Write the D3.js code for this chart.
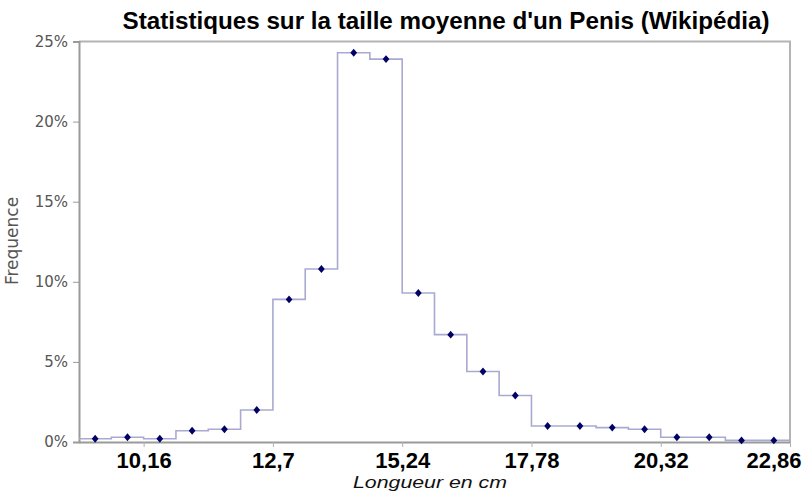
<!DOCTYPE html>
<html>
<head>
<meta charset="utf-8">
<script src="https://cdn.jsdelivr.net/npm/d3@7/dist/d3.min.js"></script>
<style>
  html, body { margin: 0; padding: 0; background: #fff; }
  svg { display: block; }
</style>
</head>
<body>
<svg id="chart" width="805" height="494"></svg>
<script>
// Data: bins of 0.635 cm (1/4 inch), from 8.89 cm to 22.86 cm
const binStart = 8.89;
const binWidth = 0.635;
const frequencies = [0.2, 0.3, 0.2, 0.7, 0.8, 2.0, 8.9, 10.8, 24.3, 23.9, 9.3, 6.7, 4.4, 2.9, 1.0, 1.0, 0.9, 0.8, 0.3, 0.3, 0.1, 0.1];
const xTickValues = [10.16, 12.7, 15.24, 17.78, 20.32, 22.86];
const xTickLabels = ["10,16", "12,7", "15,24", "17,78", "20,32", "22,86"];
const yTickValues = [0, 5, 10, 15, 20, 25];
const yTickLabels = ["0%", "5%", "10%", "15%", "20%", "25%"];
const title = "Statistiques sur la taille moyenne d'un Penis (Wikipédia)";
const xTitle = "Longueur en cm";
const yTitle = "Frequence";

const W = 805, H = 494;
const svg = d3.select("#chart");
const mLeft = 79, mRight = 790, mTop = 41.5, mBottom = 442;

const xEnd = binStart + binWidth * frequencies.length;
const x = d3.scaleLinear().domain([binStart, xEnd]).range([mLeft, mRight]);
const y = d3.scaleLinear().domain([0, 25]).range([mBottom, mTop]);

// Frame (top and right)
svg.append("path")
  .attr("d", `M${mLeft},${mTop}H${mRight}V${mBottom}`)
  .attr("fill", "none").attr("stroke", "#b4b4b4").attr("stroke-width", 2);

// Y axis
const yAxis = d3.axisLeft(y).tickValues(yTickValues)
  .tickFormat((d, i) => yTickLabels[i]).tickSize(6).tickPadding(5);
const gy = svg.append("g").attr("transform", `translate(${mLeft},0)`).call(yAxis);
gy.select(".domain").attr("stroke", "#9a9a9a").attr("stroke-width", 2);
gy.selectAll(".tick line").attr("stroke", "#9a9a9a").attr("stroke-width", 1);
gy.selectAll(".tick text")
  .attr("font-family", "DejaVu Sans, sans-serif")
  .attr("font-size", 15).attr("fill", "#555");

// X axis
const xAxis = d3.axisBottom(x).tickValues(xTickValues)
  .tickFormat((d, i) => xTickLabels[i]).tickSize(5).tickPadding(5).tickSizeOuter(0);
const gx = svg.append("g").attr("transform", `translate(0,${mBottom})`).call(xAxis);
gx.select(".domain").attr("stroke", "#9a9a9a").attr("stroke-width", 2);
gx.selectAll(".tick line").attr("stroke", "#b0b0b0").attr("stroke-width", 1);
gx.selectAll(".tick text")
  .attr("font-family", "Liberation Sans, Arial, sans-serif")
  .attr("font-weight", "bold")
  .attr("font-size", 22).attr("fill", "#000")
  .attr("dy", "0.72em")
  .each(function(d) {
    const bb = this.getBBox();
    const tx = x(d);
    if (tx + bb.width / 2 > W - 4) {
      d3.select(this).attr("text-anchor", "end").attr("x", (W - 4) - tx);
    }
  });

// Step line
const stepPts = frequencies.map((v, i) => [binStart + i * binWidth, v]);
stepPts.push([xEnd, frequencies[frequencies.length - 1]]);
const line = d3.line().x(d => x(d[0])).y(d => y(d[1])).curve(d3.curveStepAfter);
svg.append("path").datum(stepPts)
  .attr("d", line)
  .attr("fill", "none").attr("stroke", "#a9a9d2").attr("stroke-width", 1.6);

// Markers
const sym = d3.symbol().type(d3.symbolDiamond2).size(36);
svg.append("g").selectAll("path").data(frequencies).join("path")
  .attr("d", sym)
  .attr("transform", (d, i) => `translate(${x(binStart + (i + 0.5) * binWidth)},${y(d)}) scale(0.9,1.05)`)
  .attr("fill", "#000066");

// Title
svg.append("text")
  .attr("x", 446).attr("y", 29).attr("text-anchor", "middle")
  .attr("font-family", "Liberation Sans, Arial, sans-serif")
  .attr("font-weight", "bold").attr("font-size", 23.5)
  .attr("textLength", 647).attr("lengthAdjust", "spacingAndGlyphs")
  .attr("fill", "#000").text(title);

// X title
svg.append("text")
  .attr("x", 430).attr("y", 488).attr("text-anchor", "middle")
  .attr("font-family", "Liberation Sans, Arial, sans-serif")
  .attr("font-style", "italic").attr("font-size", 16.5)
  .attr("textLength", 154).attr("lengthAdjust", "spacingAndGlyphs")
  .attr("fill", "#111").text(xTitle);

// Y title
svg.append("text")
  .attr("transform", `translate(18,241) rotate(-90)`)
  .attr("text-anchor", "middle")
  .attr("font-family", "DejaVu Sans, sans-serif")
  .attr("font-size", 17).attr("fill", "#555").text(yTitle);
</script>
</body>
</html>
